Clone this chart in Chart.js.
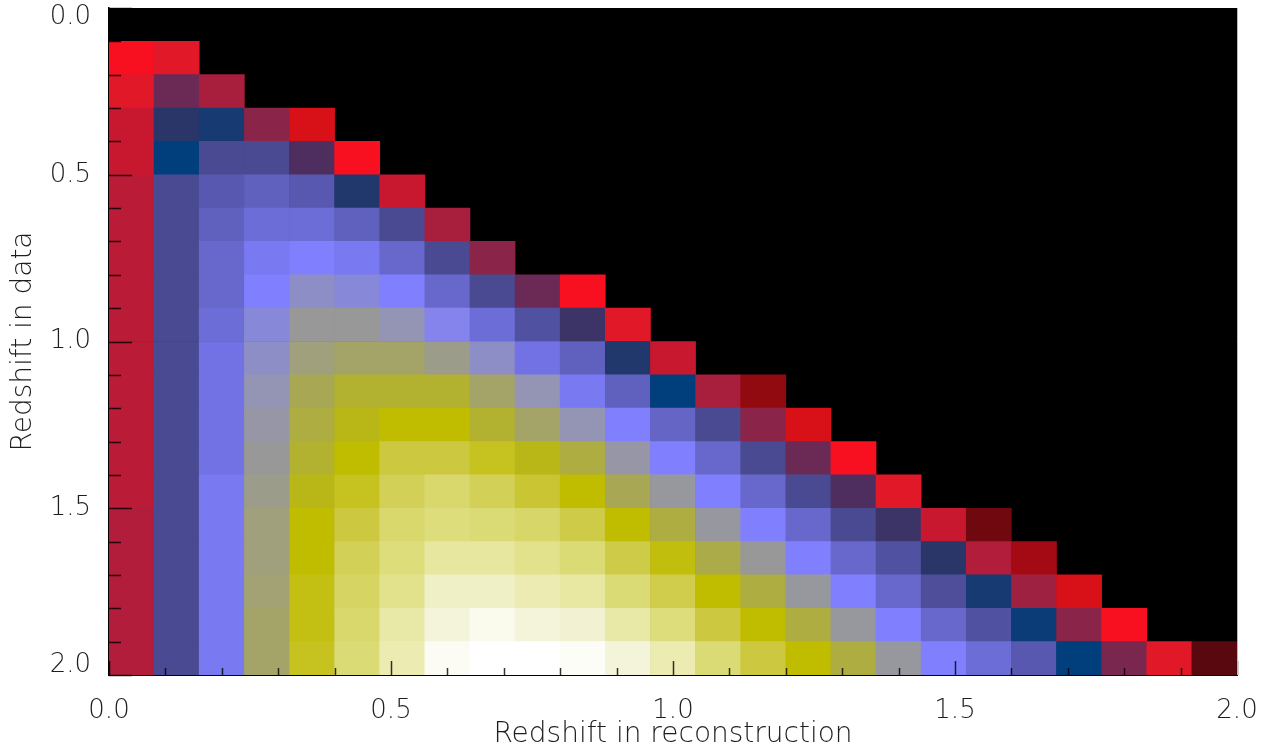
<!DOCTYPE html>
<html><head><meta charset="utf-8">
<script src="https://cdn.jsdelivr.net/npm/chart.js@4.4.1/dist/chart.umd.min.js"></script>
<style>html,body{margin:0;padding:0;background:#fff;}#wrap{width:1261px;height:754px;}</style>
</head><body><div id="wrap"><canvas id="c" width="1261" height="754"></canvas></div>
<script>
// ---- bins (categories) ----
const reconBinEdges = [0.00,0.08,0.16,0.24,0.32,0.40,0.48,0.56,0.64,0.72,0.80,0.88,0.96,1.04,1.12,1.20,1.28,1.36,1.44,1.52,1.60,1.68,1.76,1.84,1.92,2.00];
const dataBinEdges = [0.0,0.1,0.2,0.3,0.4,0.5,0.6,0.7,0.8,0.9,1.0,1.1,1.2,1.3,1.4,1.5,1.6,1.7,1.8,1.9,2.0];
// ---- cell levels per data-redshift row (index = reconstruction bin) ----
const row00 = [];
const row01 = [5, 6];
const row02 = [6, 11, 9];
const row03 = [7, 14, 15, 10, 4];
const row04 = [7, 16, 17, 17, 12, 5];
const row05 = [8, 17, 18, 18.5, 18, 14.5, 7];
const row06 = [8, 17, 18.5, 19.5, 19.5, 18.5, 17, 9];
const row07 = [8, 17, 19, 20.5, 21, 20.5, 19, 17, 10];
const row08 = [8, 17, 19, 21, 22.5, 22, 21, 19, 17, 11, 5];
const row09 = [8, 17, 19.5, 22, 24, 24, 23, 21.5, 19.5, 17.5, 13, 6];
const row10 = [8, 17, 20, 22.5, 25, 25.5, 25.5, 24.5, 22.5, 20, 18.5, 14.5, 7];
const row11 = [8, 17, 20, 23, 26, 27, 27, 27, 25.5, 23, 20.5, 18.5, 16, 9, 2];
const row12 = [8, 17, 20, 23.5, 26.5, 27.5, 28, 28, 27, 25.5, 23, 21, 18.8, 17, 10, 4];
const row13 = [8, 17, 20, 24, 27, 28, 29, 29, 28.5, 27.5, 26.5, 23.5, 21, 19, 17, 11, 5];
const row14 = [8, 17, 20.5, 24.5, 27.5, 28.5, 29.5, 30, 29.5, 28.8, 28, 26, 23.8, 21, 19, 17, 12, 6];
const row15 = [8.5, 17, 20.5, 25, 28, 29, 30, 30.5, 30.3, 29.9, 29.2, 28, 26.5, 23.7, 21, 19, 17, 13, 7, 1];
const row16 = [8.5, 17, 20.5, 25, 28, 29.5, 30.5, 31.5, 31.5, 31, 30.3, 29.2, 28.2, 26.3, 24, 21, 19, 17.5, 14, 8.5, 3];
const row17 = [8.5, 17, 20.5, 25.2, 28.3, 29.8, 31, 32.5, 32.5, 32, 31.6, 30.3, 29.3, 28, 26.5, 23.8, 21, 19, 17.3, 15, 9.3, 4];
const row18 = [8.5, 17, 20.5, 25.5, 28.3, 30, 31.7, 33, 33.5, 33, 32.8, 31.7, 30.5, 29, 28, 26.5, 23.8, 21, 19, 17.5, 15.5, 10, 5];
const row19 = [8.5, 17, 20.5, 25.5, 28.5, 30.3, 32, 33.7, 34, 34, 33.8, 33, 32, 30.3, 29, 28, 26.5, 23.8, 21, 19.5, 18, 16, 10.5, 6, 0];
const rows = [row00,row01,row02,row03,row04,row05,row06,row07,row08,row09,row10,row11,row12,row13,row14,row15,row16,row17,row18,row19];
// ---- ticks / titles ----
const tickValues = [0, 0.5, 1.0, 1.5, 2.0];
const xTickLabels = ['0.0','0.5','1.0','1.5','2.0'];
const yTickLabels = ['0.0','0.5','1.0','1.5','2.0'];
const xTitle = 'Redshift in reconstruction';
const yTitle = 'Redshift in data';

// ---- style: colour table (level -> colour) ----
const palette = ['#5a0810','#700810','#900a10','#a40a14','#d81018','#f81020','#e01828','#c81830','#ba1b37','#a81f3e',
  '#8a2448','#6a2a55','#4e2e5e','#3c3466','#2a3668','#183a72','#003e7c','#4a4a92','#5858b0','#6868cc',
  '#7272e4','#8080ff','#8888d8','#9494b4','#989898','#a0a07c','#a8a854','#b2b230','#c0bc00','#ccc840',
  '#d8d86c','#e2e28c','#ececb2','#f4f4da','#ffffff'];
function hex(c){return [parseInt(c.slice(1,3),16),parseInt(c.slice(3,5),16),parseInt(c.slice(5,7),16)];}
function levelColor(v){
  const i = Math.max(0, Math.min(palette.length-2, Math.floor(v)));
  const f = Math.max(0, Math.min(1, v - i));
  const a = hex(palette[i]), b = hex(palette[i+1]);
  const m = a.map((c,k)=>Math.round(c*(1-f)+b[k]*f));
  return `rgb(${m[0]},${m[1]},${m[2]})`;
}

const cells = [];
rows.forEach((r, i) => {
  r.forEach((v, j) => {
    cells.push({ y: (dataBinEdges[i] + dataBinEdges[i+1]) / 2, x: [reconBinEdges[j], reconBinEdges[j+1]], v: v });
  });
});

const FONT = "'DejaVu Sans', 'Liberation Sans', sans-serif";
const TXT = '#1e1e1e';

const frame = {
  id: 'frame',
  beforeDatasetsDraw(chart) {
    const {ctx, chartArea: a} = chart;
    ctx.save(); ctx.fillStyle = '#000';
    ctx.fillRect(a.left, a.top, a.right - a.left, a.bottom - a.top);
    ctx.restore();
  },
  afterDatasetsDraw(chart) {
    const {ctx, chartArea: a, scales: {x, y}} = chart;
    ctx.save();
    ctx.lineWidth = 1.5;
    ctx.strokeStyle = 'rgba(0,0,0,0.8)';
    for (let k = 0; k <= 20; k++) {
      const v = k / 10, major = k % 5 === 0;
      const py = Math.round(y.getPixelForValue(v)) + 0.5;
      ctx.beginPath(); ctx.moveTo(a.left, py); ctx.lineTo(a.left + (major ? 23 : 12), py); ctx.stroke();
      const px = Math.round(x.getPixelForValue(v)) + 0.5;
      ctx.beginPath(); ctx.moveTo(px, a.bottom); ctx.lineTo(px, a.bottom - (major ? 14 : 7)); ctx.stroke();
    }
    ctx.strokeStyle = '#bbb'; ctx.lineWidth = 1;
    ctx.beginPath(); ctx.moveTo(a.right + 0.5, a.top); ctx.lineTo(a.right + 0.5, a.bottom); ctx.stroke();
    ctx.restore();
  }
};

new Chart(document.getElementById('c'), {
  type: 'bar',
  data: { datasets: [{
    data: cells,
    backgroundColor: ctx => levelColor(ctx.raw ? ctx.raw.v : 0),
    borderWidth: 0,
    categoryPercentage: 1.0,
    barPercentage: 1.0
  }]},
  options: {
    indexAxis: 'y',
    responsive: false,
    animation: false,
    events: [],
    layout: { padding: { top: 8, right: 24, left: 0, bottom: 0 } },
    plugins: { legend: { display: false }, tooltip: { enabled: false } },
    scales: {
      x: {
        type: 'linear', position: 'bottom', min: 0, max: 2, offset: false,
        grid: { display: false },
        border: { display: true, color: '#000', width: 2 },
        afterBuildTicks: s => { s.ticks = tickValues.map(v => ({ value: v })); },
        afterFit: s => { s.height = 79; s.paddingLeft = 0; s.paddingRight = 0; },
        ticks: { autoSkip: false, maxRotation: 0, padding: 13, color: TXT,
          font: { family: FONT, size: 26, weight: 200 },
          callback: (v, i) => xTickLabels[i] },
        title: { display: true, text: xTitle, color: TXT, padding: { top: 0, bottom: 2 },
          font: { family: FONT, size: 28, weight: 200 } }
      },
      y: {
        type: 'linear', position: 'left', min: 0, max: 2, reverse: true, offset: false,
        grid: { display: false, offset: false },
        border: { display: true, color: '#000', width: 1.5 },
        afterBuildTicks: s => { s.ticks = tickValues.map(v => ({ value: v })); },
        afterFit: s => { s.width = 109; s.paddingTop = 0; s.paddingBottom = 0; },
        ticks: { autoSkip: false, padding: 10, color: TXT,
          font: { family: FONT, size: 26, weight: 200, lineHeight: 0.73 },
          callback: (v, i) => i === 0 ? ['', yTickLabels[i]] : (i === yTickLabels.length - 1 ? [yTickLabels[i], ''] : yTickLabels[i]) },
        title: { display: true, text: yTitle, color: TXT, padding: { top: 7, bottom: 0 },
          font: { family: FONT, size: 28, weight: 200 } }
      }
    }
  },
  plugins: [frame]
});
</script></body></html>
